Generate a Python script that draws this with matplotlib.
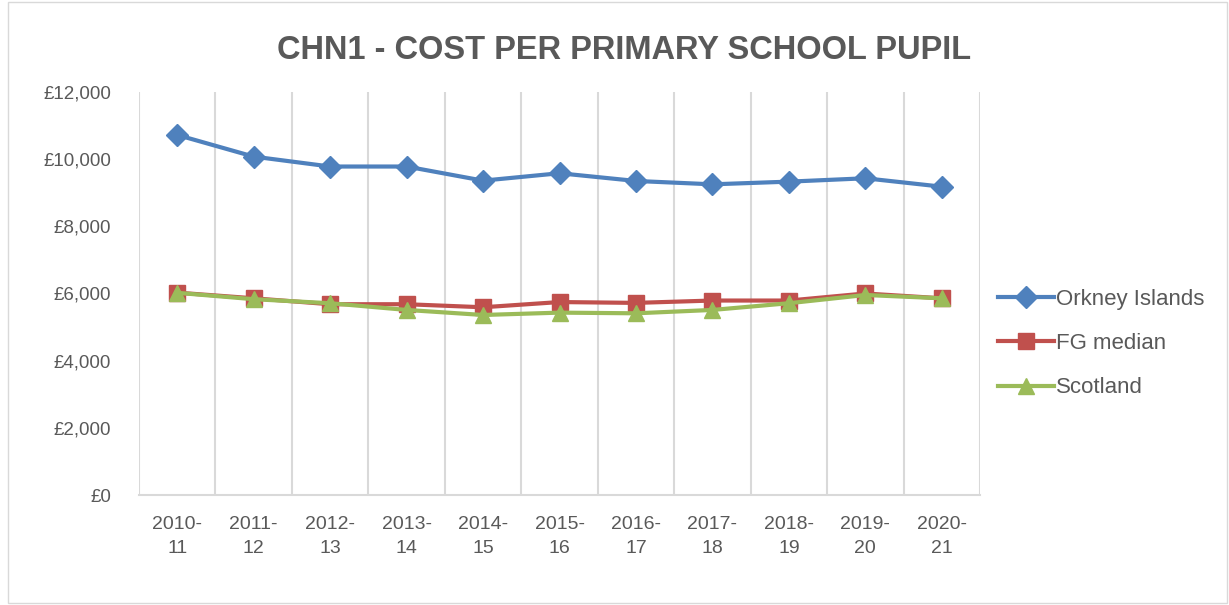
import matplotlib
matplotlib.use("Agg")
import matplotlib.pyplot as plt
from matplotlib.patches import Rectangle
from matplotlib.ticker import FuncFormatter, MultipleLocator

plt.rcParams['font.family'] = ['Liberation Sans', 'DejaVu Sans']

years = ["2010-\n11", "2011-\n12", "2012-\n13", "2013-\n14", "2014-\n15", "2015-\n16",
         "2016-\n17", "2017-\n18", "2018-\n19", "2019-\n20", "2020-\n21"]
orkney = [10720, 10075, 9780, 9780, 9360, 9580, 9350, 9250, 9330, 9430, 9180]
fg_median = [6025, 5857, 5680, 5680, 5590, 5745, 5720, 5790, 5790, 6000, 5857]
scotland = [6020, 5830, 5710, 5510, 5360, 5430, 5410, 5510, 5710, 5955, 5857]

grey = '#595959'
fig = plt.figure(figsize=(12.29, 6.05), dpi=100)
ax = fig.add_axes([0.1131, 0.1818, 0.7974 - 0.1131, 0.848 - 0.1818])

x = list(range(len(years)))
ax.plot(x, orkney, color='#4F81BD', lw=3, marker='D', ms=11.5, label='Orkney Islands', zorder=3)
ax.plot(x, fg_median, color='#C0504D', lw=3, marker='s', ms=11, label='FG median', zorder=3)
ax.plot(x, scotland, color='#9BBB59', lw=3, marker='^', ms=12, label='Scotland', zorder=4)

ax.set_xlim(-0.5, len(years) - 0.5)
ax.set_ylim(0, 12000)
ax.yaxis.set_major_locator(MultipleLocator(2000))
ax.yaxis.set_major_formatter(FuncFormatter(lambda v, p: f"£{int(v):,}"))
ax.set_xticks(x)
ax.set_xticklabels(years, linespacing=1.55)
ax.set_xticks([i - 0.5 for i in range(len(years) + 1)], minor=True)
ax.grid(False)
ax.grid(True, which='minor', axis='x', color='#D9D9D9', lw=1.5)
ax.tick_params(axis='x', which='both', length=0, pad=15, labelsize=14, labelcolor=grey)
ax.tick_params(axis='y', length=0, pad=20, labelsize=13.5, labelcolor=grey)
for s in ['top', 'right', 'left']:
    ax.spines[s].set_visible(False)
ax.spines['bottom'].set_color('#D9D9D9')
ax.spines['bottom'].set_linewidth(1.5)

fig.text(0.508, 0.917, "CHN1 - COST PER PRIMARY SCHOOL PUPIL", ha='center', va='center',
         fontsize=23.5, fontweight='bold', color=grey)

leg = fig.legend(loc='center left', bbox_to_anchor=(0.796, 0.432), frameon=False,
                 fontsize=16, handlelength=2.5, handletextpad=0.1, labelspacing=1.05,
                 labelcolor=grey)

fig.patches.append(Rectangle((8 / 1229, 2 / 605), 1219 / 1229, 601 / 605, transform=fig.transFigure,
                             fill=False, edgecolor='#D9D9D9', lw=1))

fig.savefig('out.png', dpi=100)
